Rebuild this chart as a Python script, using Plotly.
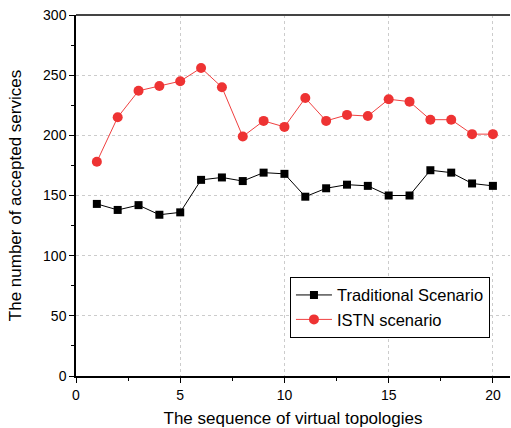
import plotly.graph_objects as go

# Sequence index of each virtual topology
topology_seq = list(range(1, 21))

# Accepted services per topology
traditional = [143, 138, 142, 134, 136, 163, 165, 162, 169, 168,
               149, 156, 159, 158, 150, 150, 171, 169, 160, 158]
istn = [178, 215, 237, 241, 245, 256, 240, 199, 212, 207,
        231, 212, 217, 216, 230, 228, 213, 213, 201, 201]

x_ticks = [0, 5, 10, 15, 20]
y_ticks = [0, 50, 100, 150, 200, 250, 300]

fig = go.Figure()
fig.add_trace(go.Scatter(
    x=topology_seq, y=traditional, name="Traditional Scenario",
    mode="lines+markers",
    line=dict(color="#000000", width=1),
    marker=dict(symbol="square", size=8, color="#000000"),
))
fig.add_trace(go.Scatter(
    x=topology_seq, y=istn, name="ISTN scenario",
    mode="lines+markers",
    line=dict(color="#f04040", width=1),
    marker=dict(symbol="circle", size=10, color="#ee3333"),
))

font_family = "Liberation Sans, Arial, sans-serif"

fig.update_layout(
    width=511, height=428,
    margin=dict(l=76, r=1, t=15, b=52),
    paper_bgcolor="white", plot_bgcolor="white",
    font=dict(family=font_family, size=14, color="#000000"),
    showlegend=True,
    legend=dict(
        x=0.493, y=0.275, xanchor="left", yanchor="top",
        bgcolor="white", bordercolor="#000000", borderwidth=1,
        font=dict(size=16.5, family=font_family),
        tracegroupgap=0, itemwidth=36,
    ),
    xaxis=dict(
        range=[0, 20.82], tickvals=x_ticks,
        showline=True, linecolor="#000000", linewidth=1.5,
        ticks="outside", ticklen=5, tickcolor="#000000",
        showgrid=True, gridcolor="#cccccc", griddash="dot", gridwidth=1,
        zeroline=False,
        minor=dict(tickvals=[2.5, 7.5, 12.5, 17.5], ticks="outside",
                   ticklen=3, tickcolor="#000000", showgrid=False),
        title=dict(text="The sequence of virtual topologies",
                   font=dict(size=17), standoff=14),
        tickfont=dict(size=14),
    ),
    yaxis=dict(
        range=[0, 300], tickvals=y_ticks,
        showline=True, linecolor="#000000", linewidth=1.5,
        ticks="outside", ticklen=5, tickcolor="#000000",
        showgrid=True, gridcolor="#cccccc", griddash="dot", gridwidth=1,
        zeroline=False,
        minor=dict(tickvals=[25, 75, 125, 175, 225, 275], ticks="outside",
                   ticklen=3, tickcolor="#000000", showgrid=False),
        title=dict(text="The number of accepted services",
                   font=dict(size=17), standoff=17),
        tickfont=dict(size=14),
    ),
    shapes=[dict(type="line", xref="paper", yref="paper",
                 x0=0, x1=1, y0=1, y1=1,
                 line=dict(color="#444444", width=2))],
)

fig.write_html("out.html")
